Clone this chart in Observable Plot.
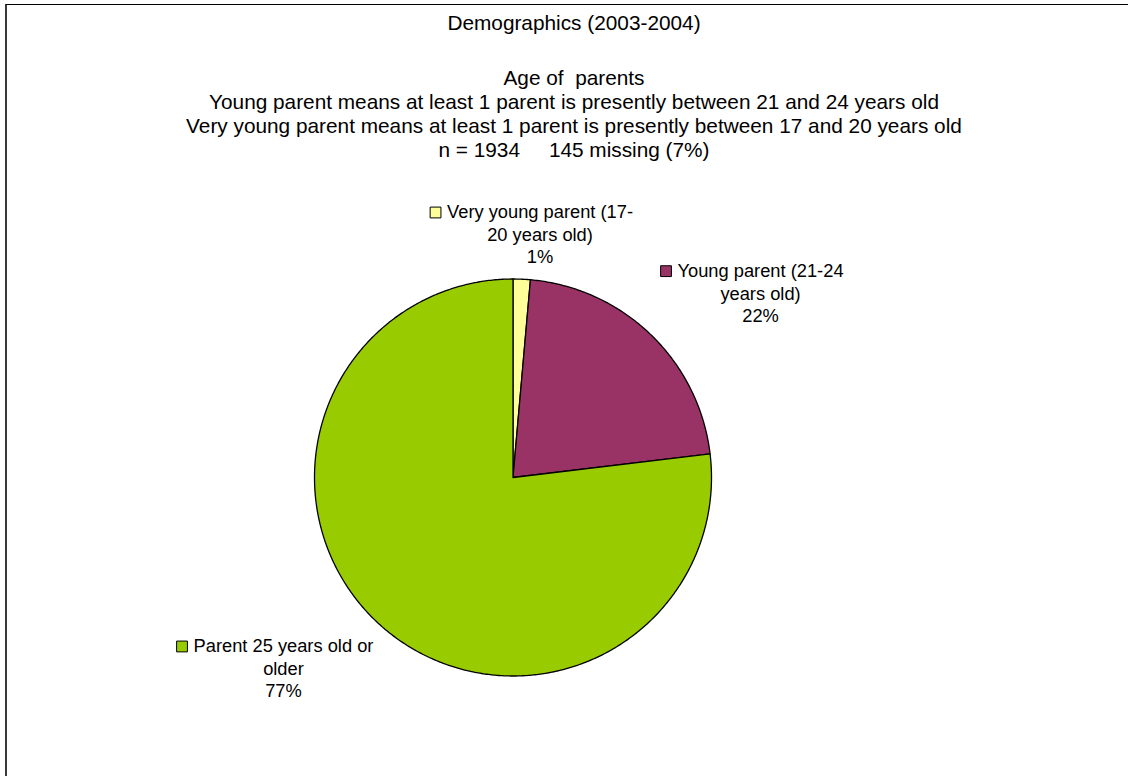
<!DOCTYPE html>
<html>
<head>
<meta charset="utf-8">
<script src="https://cdn.jsdelivr.net/npm/d3@7"></script>
<script src="https://cdn.jsdelivr.net/npm/@observablehq/plot@0.6"></script>
<style>
  html, body { margin: 0; padding: 0; background: #fff; }
  #wrap { position: relative; width: 1138px; height: 776px; overflow: hidden;
          font-family: "Liberation Sans", Arial, sans-serif; color: #000; }
  #frame { position: absolute; left: 5px; top: 4px; width: 1123px; height: 800px;
           border-top: 1px solid #000; border-left: 2px solid #3a3a3a; box-sizing: border-box; }
  #head { position: absolute; left: 5px; top: 0; width: 1138px; height: 170px; text-align: center; font-size: 20.8px; }
  .blk { position: absolute; left: 0; right: 0; white-space: pre; }
  #title { top: 10.6px; line-height: 24px; }
  #sub { top: 66.4px; line-height: 23.7px; }
  #chart { position: absolute; left: 0; top: 170px; }
  #chart svg { overflow: visible; }
</style>
</head>
<body>
<div id="wrap">
  <div id="frame"></div>
  <div id="head"><div class="blk" id="title"></div><div class="blk" id="sub"></div></div>
  <div id="chart"></div>
</div>
<script>
// ---- data ----
const titleText = "Demographics (2003-2004)";
const subtitleLines = [
  "Age of  parents",
  "Young parent means at least 1 parent is presently between 21 and 24 years old",
  "Very young parent means at least 1 parent is presently between 17 and 20 years old",
  "n = 1934     145 missing (7%)"
];
const categories = [
  "Very young parent (17-20 years old)",
  "Young parent (21-24 years old)",
  "Parent 25 years old or older"
];
const labelLines = [
  ["Very young parent (17-", "20 years old)"],
  ["Young parent (21-24", "years old)"],
  ["Parent 25 years old or", "older"]
];
const shares = [1.4, 21.7, 76.9];
const colors = ["#FFFF99", "#993366", "#99CC00"];

// ---- layout ----
const W = 1138, H = 606, CX = 512.5, CY = 307, R = 198.5;
const FS = 18.3, LINE = 22.5;
const labelOffset = [[18.3, -60.7], [109.4, -57.8], [-97.8, 26.5]]; // px from arc midpoint to label centre / first baseline

document.getElementById("title").textContent = titleText;
document.getElementById("sub").textContent = subtitleLines.join("\n");

const total = d3.sum(shares);
let acc = 0;
const slices = shares.map((v, i) => {
  const a0 = acc / total * 2 * Math.PI;
  acc += v;
  const a1 = acc / total * 2 * Math.PI;
  const pts = [{x: 0, y: 0}];
  const n = Math.max(2, Math.ceil((a1 - a0) / (Math.PI / 360)));
  for (let k = 0; k <= n; k++) {
    const a = a0 + (a1 - a0) * k / n;
    pts.push({x: Math.sin(a), y: Math.cos(a)});
  }
  pts.push({x: 0, y: 0});
  const am = (a0 + a1) / 2;
  return {i, name: categories[i], value: v, color: colors[i], pts, mx: Math.sin(am), my: Math.cos(am)};
});

// text measurement
const ctx = document.createElement("canvas").getContext("2d");
ctx.font = `${FS}px "Liberation Sans"`;

const textRows = [];
const keyRows = [];
slices.forEach(s => {
  const [ox, oy] = labelOffset[s.i];
  const cx = s.mx + ox / R;
  const by = s.my - oy / R;
  const lines = [...labelLines[s.i], Math.round(s.value) + "%"];
  lines.forEach((t, j) => textRows.push({x: cx, y: by - j * LINE / R, t}));
  const w1 = ctx.measureText(lines[0]).width;
  keyRows.push({x: cx - (w1 / 2 + 11.5) / R, y: by + 6 / R, color: s.color});
});

const plot = Plot.plot({
  width: W, height: H, margin: 0,
  x: {domain: [-CX / R, (W - CX) / R], axis: null},
  y: {domain: [-(H - CY) / R, CY / R], axis: null},
  style: {background: "transparent", fontFamily: '"Liberation Sans", Arial, sans-serif', color: "#000"},
  marks: [
    ...slices.map(s => Plot.line(s.pts, {x: "x", y: "y", fill: s.color, stroke: "#000", strokeWidth: 1.3, strokeLinejoin: "round"})),
    Plot.text(textRows, {x: "x", y: "y", text: "t", textAnchor: "middle", lineAnchor: "bottom", fontSize: FS, fill: "#000"}),
    Plot.dot(keyRows, {x: "x", y: "y", symbol: "square", r: 6.1, fill: d => d.color, stroke: "#000", strokeWidth: 1})
  ]
});
document.getElementById("chart").appendChild(plot);
</script>
</body>
</html>
